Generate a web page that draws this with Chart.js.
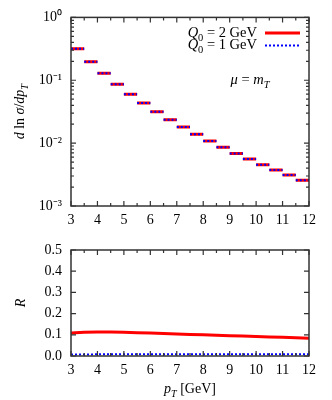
<!DOCTYPE html>
<html>
<head>
<meta charset="utf-8">
<script src="https://cdn.jsdelivr.net/npm/chart.js@4.4.0/dist/chart.umd.min.js"></script>
<style>
  body { margin: 0; background: #fff; width: 332px; height: 400px; overflow: hidden; }
  #topChart { position: absolute; left: 0; top: 0; }
  #ratioChart { position: absolute; left: 0; top: 230px; }
</style>
</head>
<body>
<canvas id="topChart" width="332" height="230"></canvas>
<canvas id="ratioChart" width="332" height="170"></canvas>
<script>
// bin edges of the pT spectrum (GeV)
const binEdges = [3, 3.5, 4, 4.5, 5, 5.5, 6, 6.5, 7, 7.5, 8, 8.5, 9, 9.5, 10, 10.5, 11, 11.5, 12];
// d ln sigma / dpT per bin
const spectrumQ2 = [0.316, 0.197, 0.129, 0.0865, 0.060, 0.0434, 0.0316, 0.0236, 0.0181, 0.0138, 0.0108, 0.0086, 0.00686, 0.00557, 0.00454, 0.00373, 0.00311, 0.00257];
const spectrumQ1 = [0.316, 0.197, 0.129, 0.0865, 0.060, 0.0434, 0.0316, 0.0236, 0.0181, 0.0138, 0.0108, 0.0086, 0.00686, 0.00557, 0.00454, 0.00373, 0.00311, 0.00257];
// ratio R vs pT
const ratioPt = [3, 3.5, 4, 4.5, 5, 5.5, 6, 6.5, 7, 7.5, 8, 8.5, 9, 9.5, 10, 10.5, 11, 11.5, 12];
const ratioQ2 = [0.108, 0.112, 0.113, 0.113, 0.112, 0.110, 0.108, 0.106, 0.104, 0.102, 0.100, 0.098, 0.096, 0.094, 0.092, 0.090, 0.088, 0.086, 0.084];
const ratioQ1 = [0.007, 0.007, 0.008, 0.008, 0.008, 0.008, 0.008, 0.008, 0.008, 0.008, 0.008, 0.008, 0.008, 0.008, 0.008, 0.008, 0.008, 0.008, 0.008];
// tick labels
const xTicks = [3, 4, 5, 6, 7, 8, 9, 10, 11, 12];
const logTicks = [0.001, 0.01, 0.1, 1];
const logLabels = ['10\u207B\u00B3', '10\u207B\u00B2', '10\u207B\u00B9', '10\u2070'];
const ratioTicks = [0, 0.1, 0.2, 0.3, 0.4, 0.5];

const RED = '#ff0000';
const BLUE = '#0000ff';
const FONT = 'Liberation Serif';
const tickFont = { family: FONT, size: 14 };

function steps(vals) {
    const pts = [];
    vals.forEach((v, i) => {
        pts.push({ x: binEdges[i], y: v }, { x: binEdges[i + 1], y: v }, { x: binEdges[i + 1], y: null });
    });
    return pts;
}

// draw text made of pieces (italic / subscript)
function drawRich(ctx, parts, x, y, align, size) {
    const fontOf = p => (p.i ? 'italic ' : '') + (p.sub ? size * 0.72 : size) + 'px "' + FONT + '"';
    let w = 0;
    parts.forEach(p => { ctx.font = fontOf(p); w += ctx.measureText(p.t).width; });
    let cx = align === 'right' ? x - w : align === 'center' ? x - w / 2 : x;
    ctx.textBaseline = 'alphabetic';
    ctx.textAlign = 'left';
    ctx.fillStyle = '#000';
    parts.forEach(p => {
        ctx.font = fontOf(p);
        ctx.fillText(p.t, cx, y + (p.sub ? size * 0.25 : 0));
        cx += ctx.measureText(p.t).width;
    });
}

// frame with inward ticks on all four sides
function framePlugin(minorX, minorY) {
    return {
        id: 'frame',
        afterDatasetsDraw(chart) {
            const { ctx, chartArea: a, scales } = chart;
            ctx.save();
            ctx.strokeStyle = '#333';
            ctx.lineWidth = 1.2;
            ctx.beginPath();
            const tick = (x1, y1, x2, y2) => { ctx.moveTo(x1, y1); ctx.lineTo(x2, y2); };
            scales.x.ticks.forEach(t => {
                const px = scales.x.getPixelForValue(t.value);
                tick(px, a.bottom, px, a.bottom - 5);
                tick(px, a.top, px, a.top + 5);
            });
            minorX.forEach(v => {
                const px = scales.x.getPixelForValue(v);
                tick(px, a.bottom, px, a.bottom - 3);
                tick(px, a.top, px, a.top + 3);
            });
            scales.y.ticks.forEach(t => {
                const py = scales.y.getPixelForValue(t.value);
                tick(a.left, py, a.left + 5, py);
                tick(a.right, py, a.right - 5, py);
            });
            minorY.forEach(v => {
                const py = scales.y.getPixelForValue(v);
                tick(a.left, py, a.left + 3, py);
                tick(a.right, py, a.right - 3, py);
            });
            ctx.stroke();
            ctx.lineWidth = 1.5;
            ctx.strokeRect(a.left, a.top, a.right - a.left, a.bottom - a.top);
            ctx.restore();
        }
    };
}

const minorX = binEdges.filter(v => v % 1 !== 0);
const minorLog = [];
[0.001, 0.01, 0.1].forEach(d => { for (let k = 2; k <= 9; k++) minorLog.push(d * k); });

const topLabels = {
    id: 'topLabels',
    afterDraw(chart) {
        const ctx = chart.ctx;
        const a = chart.chartArea;
        ctx.save();
        // legend
        drawRich(ctx, [{ t: 'Q', i: true }, { t: '0', sub: true }, { t: ' = 2 GeV' }], 257, 37, 'right', 14.5);
        drawRich(ctx, [{ t: 'Q', i: true }, { t: '0', sub: true }, { t: ' = 1 GeV' }], 257, 49, 'right', 14.5);
        ctx.strokeStyle = RED; ctx.lineWidth = 3;
        ctx.beginPath(); ctx.moveTo(265, 33); ctx.lineTo(300, 33); ctx.stroke();
        ctx.strokeStyle = BLUE; ctx.lineWidth = 2; ctx.setLineDash([2, 2]);
        ctx.beginPath(); ctx.moveTo(265, 45.5); ctx.lineTo(300, 45.5); ctx.stroke();
        ctx.setLineDash([]);
        drawRich(ctx, [{ t: '\u03BC', i: true }, { t: ' = ' }, { t: 'm', i: true }, { t: 'T', i: true, sub: true }], 250, 84, 'center', 14.5);
        // y title
        ctx.translate(24, (a.top + a.bottom) / 2);
        ctx.rotate(-Math.PI / 2);
        drawRich(ctx, [{ t: 'd', i: true }, { t: ' ln ' }, { t: '\u03C3', i: true }, { t: '/' }, { t: 'dp', i: true }, { t: 'T', i: true, sub: true }], 0, 0, 'center', 14);
        ctx.restore();
    }
};

const bottomLabels = {
    id: 'bottomLabels',
    afterDraw(chart) {
        const ctx = chart.ctx;
        const a = chart.chartArea;
        ctx.save();
        drawRich(ctx, [{ t: 'p', i: true }, { t: 'T', i: true, sub: true }, { t: ' [GeV]' }], (a.left + a.right) / 2, 163, 'center', 14);
        ctx.translate(25, (a.top + a.bottom) / 2);
        ctx.rotate(-Math.PI / 2);
        drawRich(ctx, [{ t: 'R', i: true }], 0, 0, 'center', 14);
        ctx.restore();
    }
};

const xScale = (h) => ({
    type: 'linear', min: 3, max: 12,
    afterBuildTicks: s => { s.ticks = xTicks.map(v => ({ value: v })); },
    afterFit: s => { s.height = h; },
    ticks: { font: tickFont, color: '#000', maxRotation: 0, padding: 6, callback: v => String(v) },
    grid: { display: false, drawTicks: false },
    border: { display: false }
});

new Chart(document.getElementById('topChart'), {
    type: 'line',
    data: {
        datasets: [
            { data: steps(spectrumQ2), borderColor: RED, borderWidth: 3, pointRadius: 0, spanGaps: false, order: 2 },
            { data: steps(spectrumQ1), borderColor: BLUE, borderWidth: 2, borderDash: [2, 2], pointRadius: 0, spanGaps: false, order: 1 }
        ]
    },
    options: {
        responsive: false, animation: false, devicePixelRatio: 1,
        layout: { padding: { left: 0, top: 16, right: 23, bottom: 0 } },
        plugins: { legend: { display: false }, tooltip: { enabled: false } },
        scales: {
            x: xScale(24),
            y: {
                type: 'logarithmic', min: 0.001, max: 1,
                afterBuildTicks: s => { s.ticks = logTicks.map(v => ({ value: v })); },
                afterFit: s => { s.width = 71; },
                ticks: { font: tickFont, color: '#000', padding: 9, callback: v => logLabels[logTicks.indexOf(v)] },
                grid: { display: false, drawTicks: false },
                border: { display: false }
            }
        }
    },
    plugins: [framePlugin(minorX, minorLog), topLabels]
});

new Chart(document.getElementById('ratioChart'), {
    type: 'line',
    data: {
        labels: ratioPt,
        datasets: [
            { data: ratioPt.map((x, i) => ({ x, y: ratioQ2[i] })), borderColor: RED, borderWidth: 3, pointRadius: 0, order: 2 },
            { data: ratioPt.map((x, i) => ({ x, y: ratioQ1[i] })), borderColor: BLUE, borderWidth: 2, borderDash: [2, 2], pointRadius: 0, order: 1 }
        ]
    },
    options: {
        responsive: false, animation: false, devicePixelRatio: 1,
        layout: { padding: { left: 0, top: 20, right: 23, bottom: 0 } },
        plugins: { legend: { display: false }, tooltip: { enabled: false } },
        scales: {
            x: xScale(44),
            y: {
                type: 'linear', min: 0, max: 0.5,
                afterBuildTicks: s => { s.ticks = ratioTicks.map(v => ({ value: v })); },
                afterFit: s => { s.width = 71; },
                ticks: { font: tickFont, color: '#000', padding: 9, callback: v => v.toFixed(1) },
                grid: { display: false, drawTicks: false },
                border: { display: false }
            }
        }
    },
    plugins: [framePlugin(minorX, []), bottomLabels]
});
</script>
</body>
</html>
